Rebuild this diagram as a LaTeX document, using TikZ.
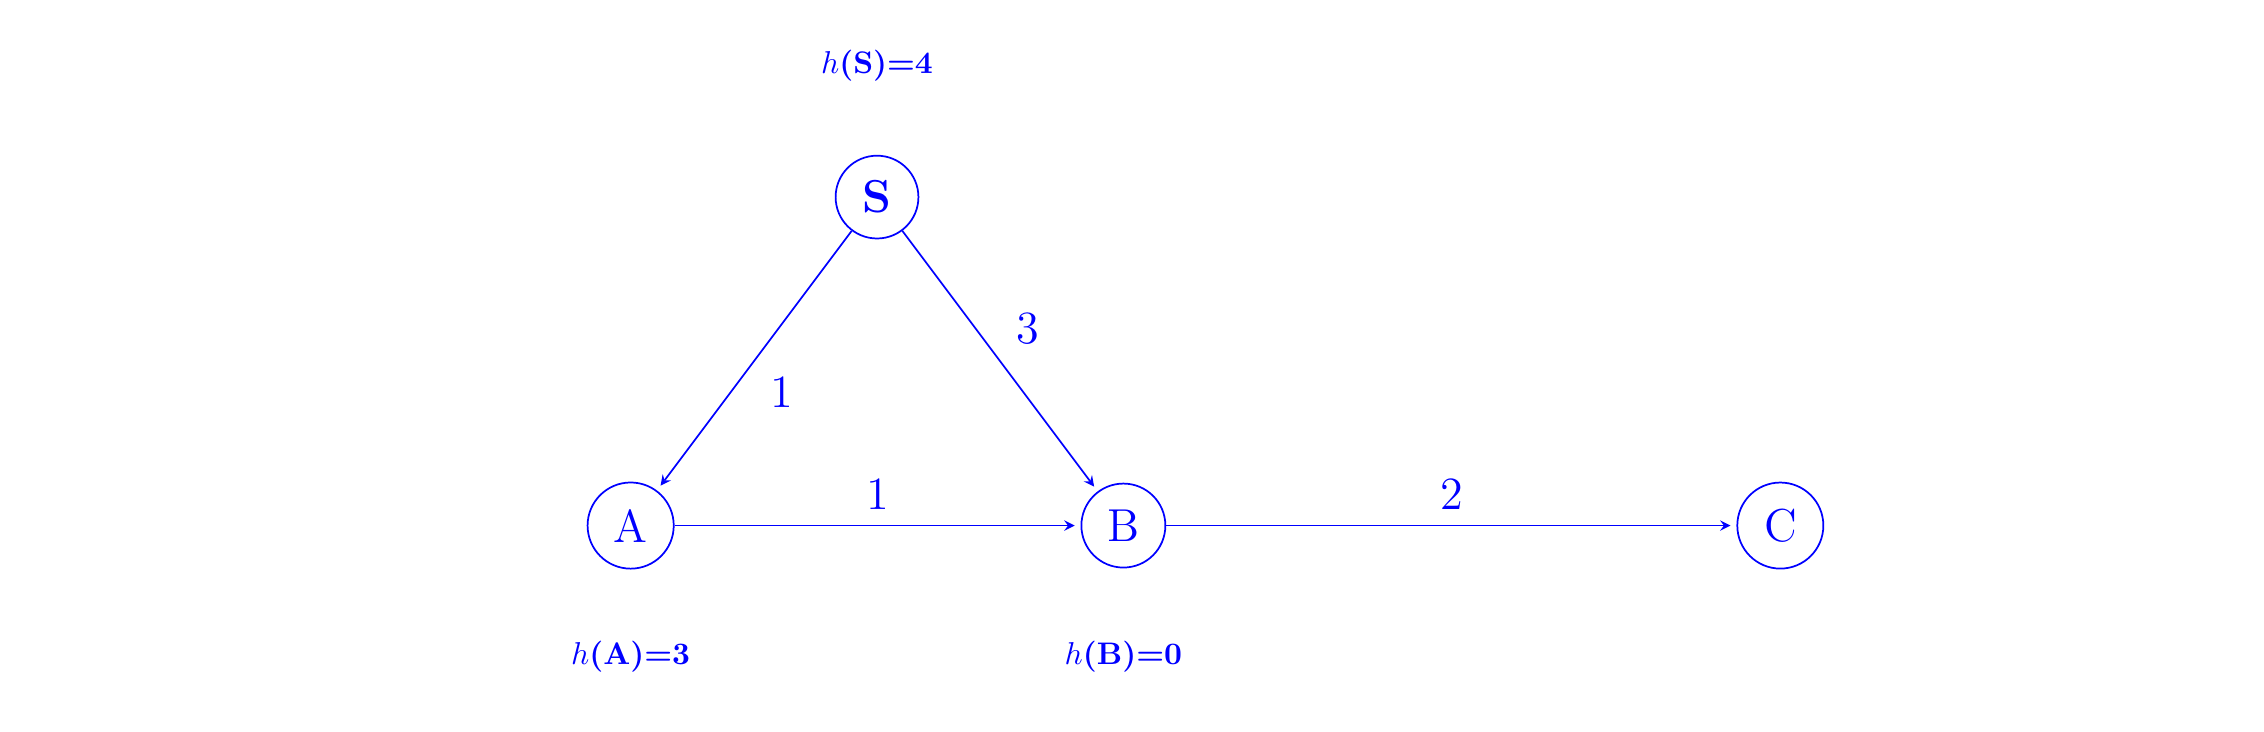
\documentclass[tikz,border=0pt]{standalone}
\usepackage{tikz}
\usetikzlibrary{positioning,arrows.meta}

\begin{document}
\begin{tikzpicture}[
  on grid,
  state/.style={circle, draw=blue, text=blue, font=\Large, scale=1.111, transform shape, inner sep=4.32pt, line width=0.6pt},
  hval/.style={text=blue, font=\fontsize{10.8}{13}\selectfont},
  cost/.style={text=blue, font=\Large, scale=1.111, transform shape, inner sep=4.8pt},
  link/.style={->, >=stealth, draw=blue, line width=0.6pt, shorten >=2pt},
]
  \useasboundingbox (-7.68,-2.51) rectangle (19.89,6.40);

  % States
  \node[state] (A) at (0,0) {A};
  \node[state, right=6cm of A] (B) {B};
  \node[state, right=8cm of B] (C) {C};
  \node[state, above right=4cm and 3cm of A] (S) {\textbf{S}};

  % Heuristic values
  \node[hval, above=1.6cm of S] (hS) {\textbf{$h$(S)=4}};
  \node[hval, below=1.6cm of A] (hA) {\textbf{$h$(A)=3}};
  \node[hval, below=1.6cm of B] (hB) {\textbf{$h$(B)=0}};

  % Edges with costs
  \draw[link] (S) -- node[cost, below right] {1} (A);
  \draw[link] (S) -- node[cost, above right] {3} (B);
  \draw[link] (A) -- node[cost, above] {1} (B);
  \draw[link] (B) -- node[cost, above] {2} (C);
\end{tikzpicture}
\end{document}
